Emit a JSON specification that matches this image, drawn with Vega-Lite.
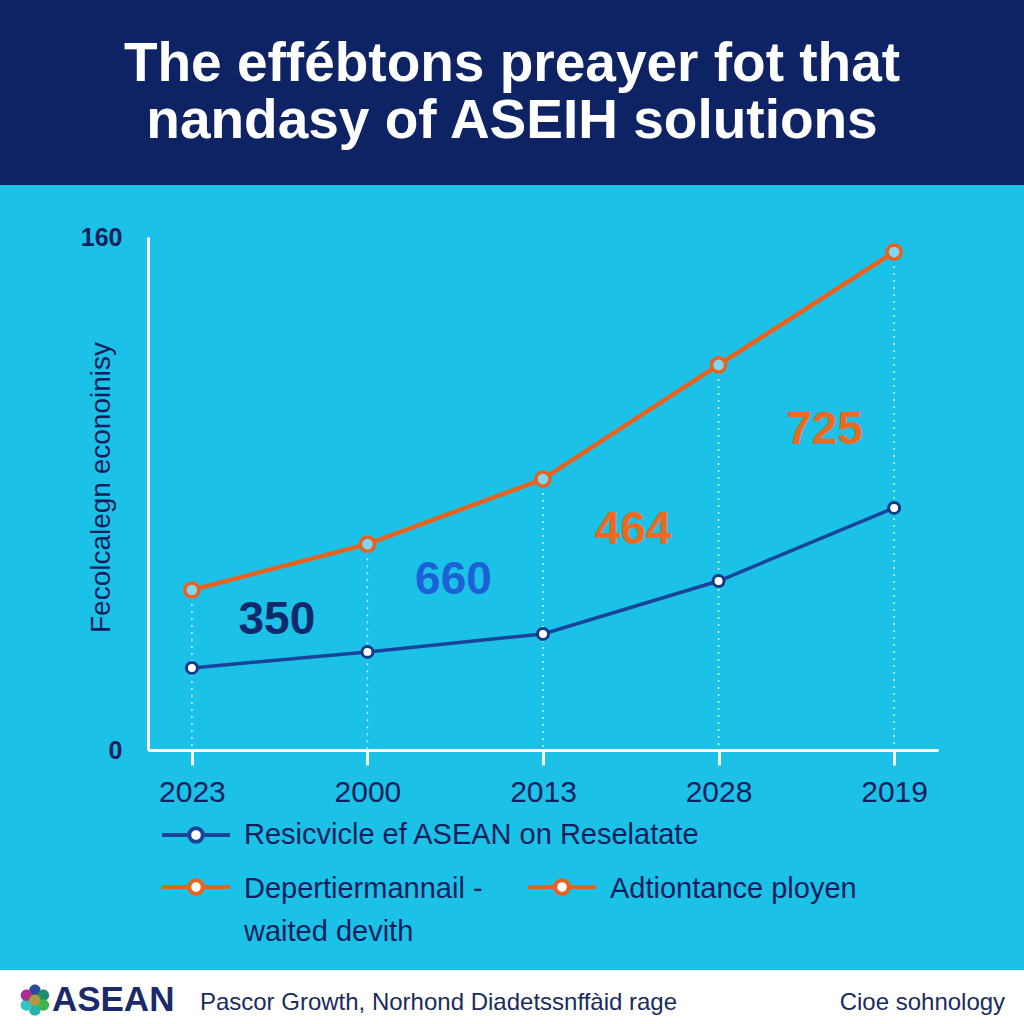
{
  "$schema": "https://vega.github.io/schema/vega-lite/v6.json",
  "width": 1024,
  "height": 1024,
  "autosize": {"type": "none"},
  "padding": 0,
  "background": "#1CC1E8",
  "config": {
    "view": {"stroke": null},
    "font": "Liberation Sans",
    "axisX": {"domainColor": "#ffffff", "domainWidth": 3, "tickColor": "#ffffff", "tickWidth": 3, "tickSize": 15, "labelFontSize": 30, "labelColor": "#0E1F5B", "labelPadding": 12, "grid": false, "labelAngle": 0},
    "axisY": {"domainColor": "#ffffff", "domainWidth": 3, "ticks": false, "labelFontSize": 25, "labelFontWeight": "bold", "labelColor": "#0E1F5B", "labelPadding": 26, "grid": false}
  },
  "datasets": {
    "series": [
      {"year": "2023", "value": 49.9, "series": "Depertiermannail - waited devith"},
      {"year": "2000", "value": 64.2, "series": "Depertiermannail - waited devith"},
      {"year": "2013", "value": 84.5, "series": "Depertiermannail - waited devith"},
      {"year": "2028", "value": 120.1, "series": "Depertiermannail - waited devith"},
      {"year": "2019", "value": 155.3, "series": "Depertiermannail - waited devith"},
      {"year": "2023", "value": 25.6, "series": "Resicvicle ef ASEAN on Reselatate"},
      {"year": "2000", "value": 30.6, "series": "Resicvicle ef ASEAN on Reselatate"},
      {"year": "2013", "value": 36.2, "series": "Resicvicle ef ASEAN on Reselatate"},
      {"year": "2028", "value": 52.7, "series": "Resicvicle ef ASEAN on Reselatate"},
      {"year": "2019", "value": 75.5, "series": "Resicvicle ef ASEAN on Reselatate"}
    ],
    "notes": [
      {"year": "2023", "value": 40.5, "label": "350"},
      {"year": "2000", "value": 53.0, "label": "660"},
      {"year": "2013", "value": 68.6, "label": "464"},
      {"year": "2028", "value": 99.8, "label": "725"}
    ],
    "logo": [
      {"part": "top"}, {"part": "topright"}, {"part": "bottomright"}, {"part": "bottom"}, {"part": "bottomleft"}, {"part": "topleft"}, {"part": "centre"}
    ]
  },
  "resolve": {"scale": {"color": "independent", "shape": "independent"}},
  "layer": [
    {
      "data": {"values": [{"band": "header"}]},
      "mark": {"type": "rect", "color": "#0E2363"},
      "encoding": {"y": {"datum": 176.2, "type": "quantitative"}, "y2": {"datum": 240}}
    },
    {
      "data": {"values": [{"band": "footer"}]},
      "mark": {"type": "rect", "color": "#FFFFFF"},
      "encoding": {"y": {"datum": -68.6, "type": "quantitative"}, "y2": {"datum": -92}}
    },
    {
      "data": {"name": "series"},
      "transform": [{"filter": "datum.series == 'Depertiermannail - waited devith'"}],
      "mark": {"type": "rule", "color": "#ffffff", "strokeWidth": 1.5, "strokeDash": [2, 5], "opacity": 0.75},
      "encoding": {
        "x": {"field": "year", "type": "ordinal", "scale": {"type": "point", "domain": ["2023", "2000", "2013", "2028", "2019"], "range": [148, 938], "padding": 0.25}, "axis": {"title": null, "offset": -274}},
        "y": {"field": "value", "type": "quantitative", "scale": {"domain": [0, 160], "range": [750, 237], "nice": false, "zero": false}, "axis": {"values": [0, 160], "title": "Fecolcalegn econoinisy", "titleFontSize": 28, "titleFontWeight": "normal", "titleColor": "#0E1F5B", "titleX": -47, "titleY": 487, "titleBaseline": "middle", "offset": -148}},
        "y2": {"datum": 0}
      }
    },
    {
      "data": {"name": "series"},
      "transform": [{"filter": "datum.series == 'Resicvicle ef ASEAN on Reselatate'"}],
      "mark": {"type": "line", "strokeWidth": 3.5},
      "encoding": {
        "x": {"field": "year", "type": "ordinal"},
        "y": {"field": "value", "type": "quantitative"},
        "order": {"value": null},
        "color": {"field": "series", "type": "nominal", "scale": {"domain": ["Resicvicle ef ASEAN on Reselatate"], "range": ["#17449A"]},
          "legend": {"orient": "none", "legendX": 160, "legendY": 799, "title": null, "symbolType": "M-1,0H-0.2M0.2,0H1M0.2,0A0.2,0.2,0,1,1,-0.2,0A0.2,0.2,0,1,1,0.2,0Z", "symbolSize": 4624, "symbolStrokeWidth": 4, "labelFontSize": 29, "labelColor": "#0E1F5B", "labelOffset": 12, "labelLimit": 800,
            "encode": {"symbols": {"update": {"fill": {"value": "#ffffff"}, "fillOpacity": {"value": 1}}}}}}
      }
    },
    {
      "data": {"name": "series"},
      "transform": [{"filter": "datum.series == 'Depertiermannail - waited devith'"}],
      "mark": {"type": "line", "strokeWidth": 4.5},
      "encoding": {
        "x": {"field": "year", "type": "ordinal"},
        "y": {"field": "value", "type": "quantitative"},
        "order": {"value": null},
        "color": {"field": "series", "type": "nominal", "scale": {"domain": ["Depertiermannail - waited devith", "Adtiontance ployen"], "range": ["#E8621E", "#E8621E"]},
          "legend": {"orient": "none", "legendX": 160, "legendY": 851, "title": null, "columns": 2, "columnPadding": 37, "symbolType": "M-1,0H-0.2M0.2,0H1M0.2,0A0.2,0.2,0,1,1,-0.2,0A0.2,0.2,0,1,1,0.2,0Z", "symbolSize": 4624, "symbolStrokeWidth": 4, "labelFontSize": 29, "labelColor": "#0E1F5B", "labelOffset": 12, "labelLimit": 800, "labelBaseline": "top",
            "labelExpr": "datum.label == 'Depertiermannail - waited devith' ? ['Depertiermannail -', 'waited devith'] : [datum.label, ' ']",
            "encode": {"symbols": {"update": {"fill": {"value": "#ffffff"}, "fillOpacity": {"value": 1}}}, "labels": {"update": {"dy": {"value": -12}, "lineHeight": {"value": 43}}}}}}
      }
    },
    {
      "data": {"name": "series"},
      "transform": [{"filter": "datum.series == 'Resicvicle ef ASEAN on Reselatate'"}],
      "mark": {"type": "point", "filled": true, "fill": "#ffffff", "stroke": "#0F3A86", "strokeWidth": 3, "size": 120, "opacity": 1},
      "encoding": {"x": {"field": "year", "type": "ordinal"}, "y": {"field": "value", "type": "quantitative"}}
    },
    {
      "data": {"name": "series"},
      "transform": [{"filter": "datum.series == 'Depertiermannail - waited devith'"}],
      "mark": {"type": "point", "filled": true, "fill": "#7FD8F0", "stroke": "#E8621E", "strokeWidth": 3.5, "size": 200, "opacity": 1},
      "encoding": {"x": {"field": "year", "type": "ordinal"}, "y": {"field": "value", "type": "quantitative"}}
    },
    {
      "data": {"name": "notes"},
      "transform": [{"filter": "datum.label == '350'"}],
      "mark": {"type": "text", "fontSize": 46, "fontWeight": "bold", "color": "#0E2A6B", "dx": 85, "align": "center", "baseline": "middle"},
      "encoding": {"x": {"field": "year", "type": "ordinal"}, "y": {"field": "value", "type": "quantitative"}, "text": {"field": "label"}}
    },
    {
      "data": {"name": "notes"},
      "transform": [{"filter": "datum.label == '660'"}],
      "mark": {"type": "text", "fontSize": 46, "fontWeight": "bold", "color": "#1C62D6", "dx": 86, "align": "center", "baseline": "middle"},
      "encoding": {"x": {"field": "year", "type": "ordinal"}, "y": {"field": "value", "type": "quantitative"}, "text": {"field": "label"}}
    },
    {
      "data": {"name": "notes"},
      "transform": [{"filter": "datum.label == '464'"}],
      "mark": {"type": "text", "fontSize": 46, "fontWeight": "bold", "color": "#EC6A1E", "dx": 90, "align": "center", "baseline": "middle"},
      "encoding": {"x": {"field": "year", "type": "ordinal"}, "y": {"field": "value", "type": "quantitative"}, "text": {"field": "label"}}
    },
    {
      "data": {"name": "notes"},
      "transform": [{"filter": "datum.label == '725'"}],
      "mark": {"type": "text", "fontSize": 46, "fontWeight": "bold", "color": "#EC6A1E", "dx": 106, "align": "center", "baseline": "middle"},
      "encoding": {"x": {"field": "year", "type": "ordinal"}, "y": {"field": "value", "type": "quantitative"}, "text": {"field": "label"}}
    },
    {
      "data": {"values": [{"text": "The effébtons preayer fot that\nnandasy of ASEIH solutions"}]},
      "mark": {"type": "text", "lineBreak": "\n", "fontSize": 55, "fontWeight": "bold", "color": "#ffffff", "align": "center", "baseline": "middle", "lineHeight": 57},
      "encoding": {"y": {"datum": 214.0, "type": "quantitative"}, "text": {"field": "text"}}
    },
    {
      "data": {"values": [{"text": "Pascor Growth, Norhond Diadetssnffàid rage"}]},
      "mark": {"type": "text", "fontSize": 24, "color": "#1A2B5E", "align": "left", "baseline": "middle", "dx": 8},
      "encoding": {"x": {"datum": "2023", "type": "ordinal"}, "y": {"datum": -78.9, "type": "quantitative"}, "text": {"field": "text"}}
    },
    {
      "data": {"values": [{"text": "Cioe sohnology"}]},
      "mark": {"type": "text", "fontSize": 24, "color": "#1A2B5E", "align": "right", "baseline": "middle", "dx": 111},
      "encoding": {"x": {"datum": "2019", "type": "ordinal"}, "y": {"datum": -78.9, "type": "quantitative"}, "text": {"field": "text"}}
    },
    {
      "data": {"values": [{"text": "ASEAN"}]},
      "mark": {"type": "text", "fontSize": 35, "fontWeight": "bold", "color": "#1B2A6B", "align": "left", "baseline": "middle", "dx": -140},
      "encoding": {"x": {"datum": "2023", "type": "ordinal"}, "y": {"datum": -78.0, "type": "quantitative"}, "text": {"field": "text"}}
    },
    {
      "data": {"name": "logo"},
      "mark": {"type": "point", "filled": true, "opacity": 1, "size": 1000, "xOffset": -157},
      "encoding": {
        "x": {"datum": "2023", "type": "ordinal"},
        "y": {"datum": -78.0, "type": "quantitative"},
        "shape": {"field": "part", "type": "nominal", "legend": null, "scale": {"domain": ["top", "topright", "bottomright", "bottom", "bottomleft", "topleft", "centre"], "range": [
          "M0.36,-0.62A0.36,0.36,0,1,1,-0.36,-0.62A0.36,0.36,0,1,1,0.36,-0.62Z",
          "M0.897,-0.31A0.36,0.36,0,1,1,0.177,-0.31A0.36,0.36,0,1,1,0.897,-0.31Z",
          "M0.897,0.31A0.36,0.36,0,1,1,0.177,0.31A0.36,0.36,0,1,1,0.897,0.31Z",
          "M0.36,0.62A0.36,0.36,0,1,1,-0.36,0.62A0.36,0.36,0,1,1,0.36,0.62Z",
          "M-0.177,0.31A0.36,0.36,0,1,1,-0.897,0.31A0.36,0.36,0,1,1,-0.177,0.31Z",
          "M-0.177,-0.31A0.36,0.36,0,1,1,-0.897,-0.31A0.36,0.36,0,1,1,-0.177,-0.31Z",
          "M0.36,0A0.36,0.36,0,1,1,-0.36,0A0.36,0.36,0,1,1,0.36,0Z"]}},
        "color": {"field": "part", "type": "nominal", "legend": null, "scale": {"domain": ["top", "topright", "bottomright", "bottom", "bottomleft", "topleft", "centre"], "range": ["#2B4C9B", "#1E8C6E", "#3FB44A", "#27B5A8", "#33C4C8", "#A8308E", "#B09A3E"]}}
      }
    }
  ]
}
